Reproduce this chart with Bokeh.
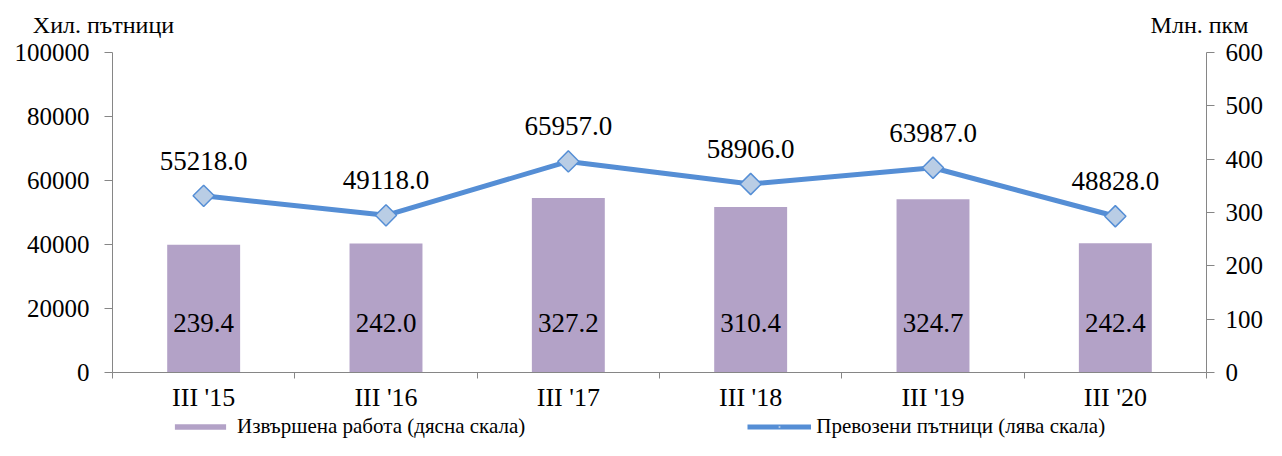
import math
from bokeh.plotting import figure
from bokeh.layouts import column
from bokeh.models import (Range1d, LinearAxis, FixedTicker, NumeralTickFormatter,
                          ColumnDataSource, Legend, LegendItem)
from bokeh.core.properties import value
from bokeh.embed import file_html
from bokeh.resources import INLINE

categories = ["III '15", "III '16", "III '17", "III '18", "III '19", "III '20"]
passengers = [55218.0, 49118.0, 65957.0, 58906.0, 63987.0, 48828.0]   # left axis, thousand passengers
work_done = [239.4, 242.0, 327.2, 310.4, 324.7, 242.4]               # right axis, mln pkm
left_ticks = [0, 20000, 40000, 60000, 80000, 100000]
right_ticks = [0, 100, 200, 300, 400, 500, 600]
left_title = "Хил. пътници"
right_title = "Млн. пкм"
bar_name = "Извършена работа (дясна скала)"
line_name = "Превозени пътници (лява скала)"

FONT = "Liberation Serif"
AXIS_GRAY = "#868686"
BAR_COLOR = "#B3A2C7"
LINE_COLOR = "#558ED5"
MARKER_FILL = "#B9CDE5"
NBSP = "\u00a0"

W = 1266
LEG_H = 26
MAIN_H = 440 - LEG_H
B_LEFT, B_RIGHT, B_TOP, B_BOTTOM = 112, 58, 52, 40
FRAME_W = W - B_LEFT - B_RIGHT

xs = list(range(len(categories)))
src = ColumnDataSource(dict(
    x=xs, pas=passengers, work=work_done,
    pas_lbl=[f"{v:.1f}" for v in passengers],
    work_lbl=[f"{v:.1f}" for v in work_done],
    zero=[0] * len(xs),
))

p = figure(width=W, height=MAIN_H, output_backend="svg", toolbar_location=None,
           x_range=Range1d(-0.5, len(categories) - 0.5),
           y_range=Range1d(left_ticks[0], left_ticks[-1]),
           min_border_left=B_LEFT, min_border_right=B_RIGHT,
           min_border_top=B_TOP, min_border_bottom=B_BOTTOM)
p.extra_y_ranges = {"right": Range1d(right_ticks[0], right_ticks[-1])}
p.extra_x_ranges = {"px": Range1d(0, FRAME_W)}
p.outline_line_color = None
p.xgrid.visible = False
p.ygrid.visible = False

# x axis
xa = p.xaxis[0]
xa.ticker = FixedTicker(ticks=xs, minor_ticks=[i - 0.5 for i in range(len(xs) + 1)])
xa.major_label_overrides = {i: c for i, c in enumerate(categories)}
xa.major_tick_out = 0
xa.major_tick_in = 0
xa.minor_tick_out = 6
xa.minor_tick_in = 0
xa.minor_tick_line_color = AXIS_GRAY
xa.axis_line_color = AXIS_GRAY
xa.major_label_text_font = FONT
xa.major_label_text_font_size = "26px"
xa.major_label_text_color = "black"
xa.major_label_standoff = 4

# left axis
ya = p.yaxis[0]
ya.ticker = FixedTicker(ticks=left_ticks)
ya.formatter = NumeralTickFormatter(format="0")
ya.major_tick_out = 8
ya.major_tick_in = 0
ya.minor_tick_line_color = None
ya.axis_line_color = AXIS_GRAY
ya.major_tick_line_color = AXIS_GRAY
ya.major_label_text_font = FONT
ya.major_label_text_font_size = "25px"
ya.major_label_text_color = "black"
ya.major_label_standoff = 15

# right axis
ra = LinearAxis(y_range_name="right", ticker=FixedTicker(ticks=right_ticks))
ra.major_tick_out = 8
ra.major_tick_in = 0
ra.minor_tick_line_color = None
ra.axis_line_color = AXIS_GRAY
ra.major_tick_line_color = AXIS_GRAY
ra.major_label_text_font = FONT
ra.major_label_text_font_size = "25px"
ra.major_label_text_color = "black"
ra.major_label_standoff = 11
p.add_layout(ra, "right")

# axis titles: shown as the labels of a bare axis above the plot
right_title_pos = 1201 - B_LEFT
ta = LinearAxis(x_range_name="px", ticker=FixedTicker(ticks=[0, right_title_pos]))
ta.major_label_overrides = {0: left_title + NBSP * 3, right_title_pos: right_title}
ta.axis_line_color = None
ta.major_tick_line_color = None
ta.minor_tick_line_color = None
ta.major_label_standoff = 9
ta.major_label_text_font = FONT
ta.major_label_text_font_size = "24px"
ta.major_label_text_color = "black"
p.add_layout(ta, "above")

# bars (right scale)
bars = p.vbar(x="x", top="work", width=0.4, source=src, y_range_name="right",
              fill_color=BAR_COLOR, line_color=None)
p.text(x="x", y="zero", text="work_lbl", source=src, y_range_name="right",
       text_align="center", text_baseline="middle", y_offset=-50,
       text_font=value(FONT), text_font_size="27px", text_color="black")

# line (left scale)
line = p.line(x="x", y="pas", source=src, line_color=LINE_COLOR, line_width=5)
p.scatter(x="x", y="pas", source=src, marker="square", size=15, angle=math.pi / 4,
          fill_color=MARKER_FILL, line_color=LINE_COLOR, line_width=1.5)
p.text(x="x", y="pas", text="pas_lbl", source=src,
       text_align="center", text_baseline="middle", y_offset=-35,
       text_font=value(FONT), text_font_size="27px", text_color="black")

# ---- legend strip below the chart ----
leg = figure(width=W, height=LEG_H, output_backend="svg", toolbar_location=None,
             x_range=Range1d(0, 1), y_range=Range1d(0, 1), min_border=0,
             x_axis_location=None, y_axis_location=None, outline_line_color=None)
leg.grid.visible = False
nan = float("nan")
lb = leg.vbar(x=[nan], top=[nan], width=0.1, fill_color=BAR_COLOR, line_color=None)
ll = leg.line(x=[nan], y=[nan], line_color=LINE_COLOR, line_width=5)
lm = leg.scatter(x=[nan], y=[nan], marker="square", size=5, angle=math.pi / 4,
                 fill_color=MARKER_FILL, line_color=LINE_COLOR, line_width=1)
legend = Legend(items=[
    LegendItem(label=bar_name, renderers=[lb]),
    LegendItem(label=line_name, renderers=[ll, lm]),
], orientation="horizontal", location=(168 - B_LEFT, 1), padding=0, margin=0, spacing=222,
    glyph_width=64, glyph_height=7, label_height=24, label_standoff=5,
    label_text_font=FONT, label_text_font_size="21px", label_text_color="black",
    border_line_color=None, background_fill_alpha=0)
leg.add_layout(legend, "center")

layout = column(p, leg, spacing=0)
open("out.html", "w").write(file_html(layout, INLINE))
